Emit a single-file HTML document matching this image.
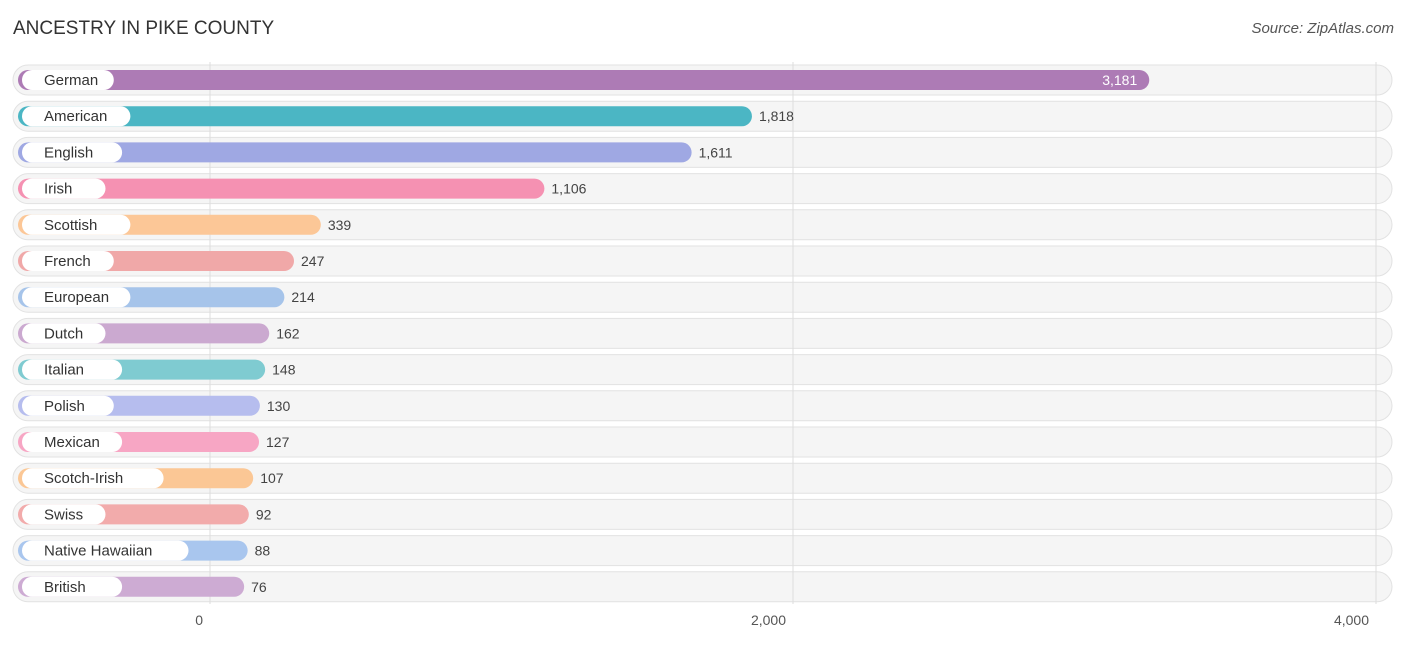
<!DOCTYPE html>
<html><head><meta charset="utf-8"><style>
body{margin:0;background:#fff;font-family:"Liberation Sans",sans-serif;}
</style></head><body>
<svg width="1406" height="644" xmlns="http://www.w3.org/2000/svg">
<text x="13" y="34" font-size="19" fill="#333">ANCESTRY IN PIKE COUNTY</text>
<text x="1394" y="33" font-size="15" fill="#555" font-style="italic" text-anchor="end">Source: ZipAtlas.com</text>
<g id="rowbg"></g>
<g id="grid"></g>
<g id="rows"></g>
<g id="ticks"></g>
</svg>
<script>
const categories=["German","American","English","Irish","Scottish","French","European","Dutch","Italian","Polish","Mexican","Scotch-Irish","Swiss","Native Hawaiian","British"];
const values=[3181,1818,1611,1106,339,247,214,162,148,130,127,107,92,88,76];
const colors=["#ad7bb5","#4bb6c4","#9fa8e3","#f591b2","#fcc797","#f0a8a8","#a6c4ea","#cba9d0","#7fcbd1","#b6bdee","#f7a6c4","#fbc795","#f2abab","#a9c6ee","#cdabd3"];
const tickValues=[0,2000,4000];
const tickLabels=["0","2,000","4,000"];
const NS="http://www.w3.org/2000/svg";
function x(v){return 210+v*(1376-210)/4000;}
function rowY(i){return 80+i*36.2;}
function mk(t,a,p){const e=document.createElementNS(NS,t);for(const k in a)e.setAttribute(k,a[k]);p.appendChild(e);return e;}
const rowbg=document.getElementById('rowbg'),grid=document.getElementById('grid'),rows=document.getElementById('rows'),ticks=document.getElementById('ticks');
categories.forEach((c,i)=>{
  const y=rowY(i);
  const bg=mk('rect',{x:13,y:y-15,width:1379,height:30,rx:15,fill:'#f5f5f5',stroke:'#e2e2e2'},rowbg);
  
  
});
tickValues.forEach((t,i)=>{
  const l=mk('line',{x1:x(t),x2:x(t),y1:62,y2:604,stroke:'#ddd'},grid);
  
  
  const tx=mk('text',{x:x(t)-7,y:625,'font-size':14,fill:'#555','text-anchor':'end'},ticks);
  tx.textContent=tickLabels[i];
  
  
});
categories.forEach((c,i)=>{
  const y=rowY(i),end=x(values[i])+12;
  const b=mk('rect',{x:18,y:y-10,width:end-18,height:20,rx:10,fill:colors[i]},rows);
  
  
  const w=c.length*8.3+42;
  const p=mk('rect',{x:22,y:y-10,width:w,height:20,rx:10,fill:'#fff'},rows);
  
  
  const t=mk('text',{x:44,y:y+5,'font-size':15,fill:'#333'},rows);
  t.textContent=c;
  
  
  const inside=i==0;
  const v=mk('text',{x:inside?end-12:end+7,y:y+5,'font-size':14,fill:inside?'#fff':'#444','text-anchor':inside?'end':'start'},rows);
  v.textContent=values[i].toLocaleString('en-US');
  
  
});
</script>
</body></html>
